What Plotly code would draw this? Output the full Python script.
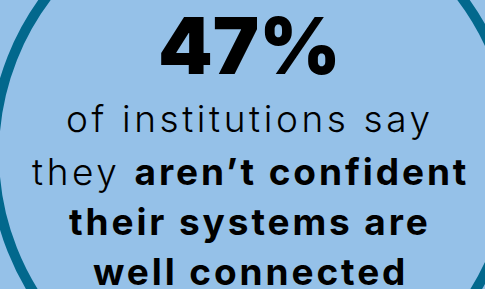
import plotly.graph_objects as go

# ---- data ----
stat_value = 47
stat_suffix = "%"
light_parts = ["of institutions say", "they ", "", ""]
bold_parts = ["", "aren\u2019t confident", "their systems are", "well connected"]

BG = "#95C1E8"
RING = "#02688D"
W, H = 485, 289

fig = go.Figure()
fig.update_layout(
    width=W, height=H,
    margin=dict(l=0, r=0, t=0, b=0),
    paper_bgcolor=BG, plot_bgcolor=BG,
    xaxis=dict(range=[0, W], visible=False, fixedrange=True),
    yaxis=dict(range=[H, 0], visible=False, fixedrange=True),
    showlegend=False,
)

cx, cy, r = 254, 154, 260
fig.add_shape(type="circle", xref="x", yref="y",
              x0=cx - r, y0=cy - r, x1=cx + r, y1=cy + r,
              line=dict(color=RING, width=10), fillcolor="rgba(0,0,0,0)")

fig.add_annotation(x=249, y=45, xref="x", yref="y",
                   text=f"{stat_value}{stat_suffix}", showarrow=False,
                   font=dict(family="Inter", size=78, color="black", weight=900),
                   xanchor="center", yanchor="middle")

ys = [118, 171, 221, 271]
for lp, bp, y in zip(light_parts, bold_parts, ys):
    txt = ""
    if lp:
        txt += f"<span style='letter-spacing:3.6px'>{lp}</span>"
    if bp:
        txt += f"<span style='font-weight:700;letter-spacing:2.9px'>{bp}</span>"
    fig.add_annotation(x=250, y=y, xref="x", yref="y", text=txt, showarrow=False,
                       font=dict(family="Inter", size=37, color="black", weight=300),
                       xanchor="center", yanchor="middle")

fig.write_html("out.html", config={"displayModeBar": False, "staticPlot": True},
               post_script="document.body.style.margin='0';document.body.style.overflow='hidden';")
